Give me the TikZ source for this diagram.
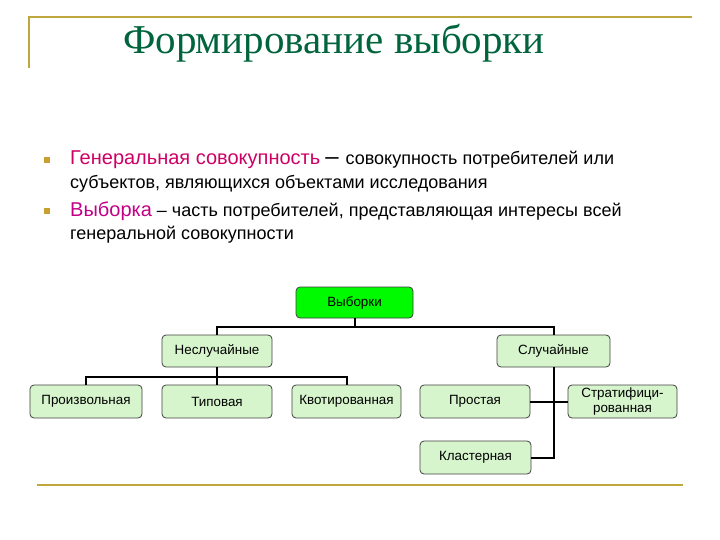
\documentclass[tikz,border=0pt]{standalone}
\usepackage{fontspec}
\setmainfont{Liberation Serif}
\setsansfont{Liberation Sans}
\definecolor{frame}{RGB}{190,168,60}
\definecolor{titlec}{RGB}{0,100,60}
\definecolor{pinkc}{RGB}{205,0,100}
\definecolor{magc}{RGB}{195,0,135}
\definecolor{boxfill}{RGB}{214,245,204}
\definecolor{topfill}{RGB}{0,250,0}
\definecolor{bullc}{RGB}{200,160,50}
\newcommand{\pinkfont}{\fontsize{20}{22}\selectfont}
\begin{document}
\begin{tikzpicture}[x=1pt,y=-1pt,
  box/.style={draw=black!75, line width=0.8pt, rounded corners=4pt, fill=boxfill,
    font=\sffamily\fontsize{13.4}{15}\selectfont, align=center, inner sep=1pt,
    minimum height=33pt},
  conn/.style={draw=black, line width=2pt},
  frameline/.style={draw=frame, line width=1.5pt},
  bul/.style={fill=bullc, minimum size=6pt, inner sep=0pt},
  btext/.style={anchor=base west, inner sep=0pt, font=\sffamily\fontsize{18}{20}\selectfont}]
\useasboundingbox (0,0) rectangle (720,540);
% frame
\coordinate (f1) at (29,68);
\coordinate (f2) at (29,17);
\coordinate (f3) at (692,17);
\draw[frameline] (f1) -- (f2) -- (f3);
\coordinate (b1) at (37,485);
\coordinate (b2) at (683,485);
\draw[frameline] (b1) -- (b2);
% title
\node[anchor=base west, inner sep=0pt, text=titlec, font=\fontsize{41}{44}\selectfont] (title) at (123,54) {Формирование выборки};
% bullets
\node[bul] (bu1) at (47,160) {};
\node[bul] (bu2) at (47,211) {};
\node[btext] (t1) at (70,165) {\textcolor{pinkc}{\pinkfont Генеральная совокупность} {\fontsize{24}{24}\selectfont –} \hspace{2pt}совокупность потребителей или};
\node[btext] (t2) at (70,189) {субъектов, являющихся объектами исследования};
\node[btext] (t3) at (70,217) {\textcolor{magc}{\pinkfont Выборка} – часть потребителей, представляющая интересы всей};
\node[btext] (t4) at (70,240) {генеральной совокупности};
% boxes
\node[box, fill=topfill, minimum width=117pt, minimum height=31pt] (V) at (354.5,302.5) {Выборки};
\node[box, minimum width=110pt, minimum height=32pt] (N) at (217,351) {Неслучайные};
\node[box, minimum width=113pt, minimum height=32pt] (S) at (553.5,351) {Случайные};
\node[box, minimum width=112pt] (P) at (86,401.5) {Произвольная};
\node[box, minimum width=110pt] (T) at (217,401.5) {Типовая};
\node[box, minimum width=109pt] (K) at (346.5,401.5) {Квотированная};
\node[box, minimum width=110pt] (Pr) at (475,401.5) {Простая};
\node[box, minimum width=109pt] (St) at (622.5,401.5) {Стратифици-\\рованная};
\node[box, minimum width=111pt] (Kl) at (475.5,457.5) {Кластерная};
% connectors
\draw[conn] (V.south) -- ++(0,8.5) -| (N.north);
\draw[conn] (V.south) -- ++(0,8.5) -| (S.north);
\draw[conn] (N.south) -- ++(0,10) -| (P.north);
\draw[conn] (N.south) -- (T.north);
\draw[conn] (N.south) -- ++(0,10) -| (K.north);
\draw[conn] (S.south) |- (Kl.east);
\draw[conn] (Pr.east) -- (St.west);
\end{tikzpicture}
\end{document}
